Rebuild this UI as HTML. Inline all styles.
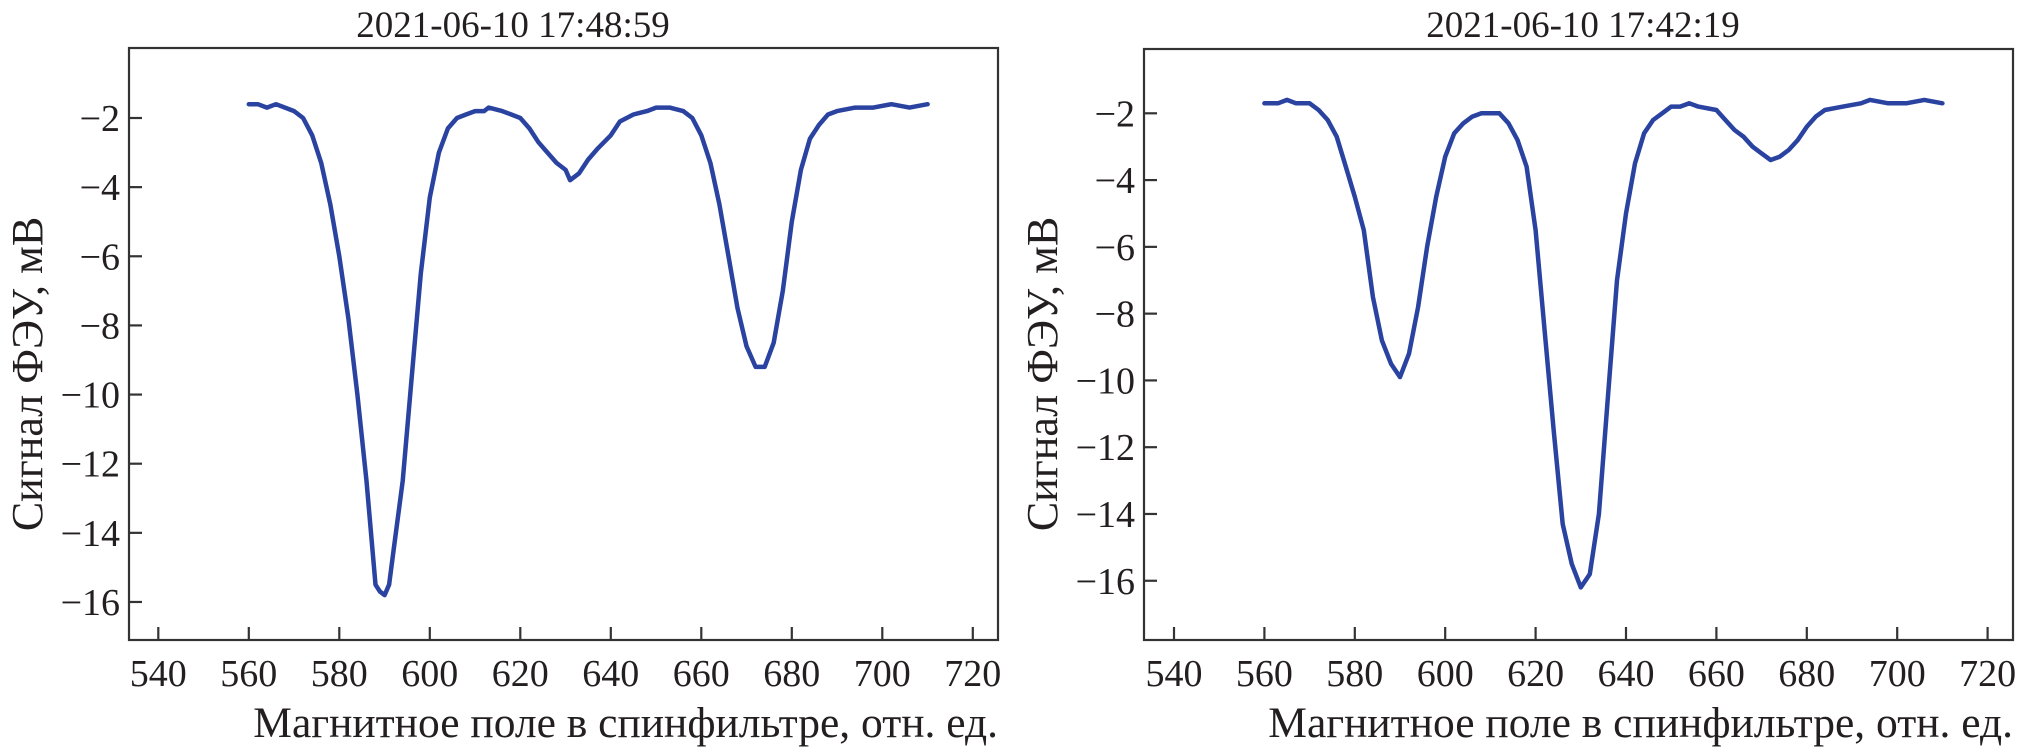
<!DOCTYPE html>
<html><head><meta charset="utf-8"><style>
html,body{margin:0;padding:0;background:#fff;width:2017px;height:750px;overflow:hidden}
svg text{font-family:"Liberation Serif",serif;fill:#231f20}
</style></head><body>
<svg id="svg" width="2017" height="750" xmlns="http://www.w3.org/2000/svg"></svg>
<script>
const xTicks=[540,560,580,600,620,640,660,680,700,720];
const yTicks=[-2,-4,-6,-8,-10,-12,-14,-16];
const leftX=[560,562,564,566,568,570,572,574,576,578,580,582,584,586,588,589,590,591,592,594,596,598,600,602,604,606,608,610,612,613,616,618,620,622,624,626,628,630,631,633,635,637,640,642,645,648,650,653,656,658,660,662,664,666,668,670,672,674,676,678,680,682,684,686,688,690,694,698,702,706,710];
const leftY=[-1.6,-1.6,-1.7,-1.6,-1.7,-1.8,-2.0,-2.5,-3.3,-4.5,-6.0,-7.8,-10,-12.5,-15.5,-15.7,-15.8,-15.5,-14.5,-12.5,-9.5,-6.5,-4.3,-3.0,-2.3,-2.0,-1.9,-1.8,-1.8,-1.7,-1.8,-1.9,-2.0,-2.3,-2.7,-3.0,-3.3,-3.5,-3.8,-3.6,-3.2,-2.9,-2.5,-2.1,-1.9,-1.8,-1.7,-1.7,-1.8,-2.0,-2.5,-3.3,-4.5,-6.0,-7.5,-8.6,-9.2,-9.2,-8.5,-7.0,-5.0,-3.5,-2.6,-2.2,-1.9,-1.8,-1.7,-1.7,-1.6,-1.7,-1.6];
const rightX=[560,563,565,567,570,572,574,576,578,580,582,584,586,588,590,592,594,596,598,600,602,604,606,608,610,612,614,616,618,620,622,624,626,628,630,632,634,636,638,640,642,644,646,648,650,652,654,656,660,662,664,666,668,670,672,674,676,678,680,682,684,688,692,694,698,702,706,710];
const rightY=[-1.7,-1.7,-1.6,-1.7,-1.7,-1.9,-2.2,-2.7,-3.6,-4.5,-5.5,-7.5,-8.8,-9.5,-9.9,-9.2,-7.8,-6.0,-4.5,-3.3,-2.6,-2.3,-2.1,-2.0,-2.0,-2.0,-2.3,-2.8,-3.6,-5.5,-8.5,-11.5,-14.3,-15.5,-16.2,-15.8,-14,-10.5,-7,-5.0,-3.5,-2.6,-2.2,-2.0,-1.8,-1.8,-1.7,-1.8,-1.9,-2.2,-2.5,-2.7,-3.0,-3.2,-3.4,-3.3,-3.1,-2.8,-2.4,-2.1,-1.9,-1.8,-1.7,-1.6,-1.7,-1.7,-1.6,-1.7];
const svg=document.getElementById('svg');
const NS='http://www.w3.org/2000/svg';
function mk(tag,attrs,parent){const e=document.createElementNS(NS,tag);for(const k in attrs)e.setAttribute(k,attrs[k]);(parent||svg).appendChild(e);return e;}
function panel(p,xs,ys){
  const sx=v=>p.x540+(v-540)*p.kx;
  const sy=v=>p.ym2+(-2-v)*p.ky;
  const g=mk('g',{});
  
  
  const fr=mk('rect',{x:p.l,y:p.t,width:p.r-p.l,height:p.b-p.t,fill:'none',stroke:'#333',"stroke-width":2.2},g);
  
  
  xTicks.forEach(v=>{
    const x=sx(v);
    const tl=mk('line',{x1:x,x2:x,y1:p.b,y2:p.b-13,stroke:'#333',"stroke-width":2.2},g);
    
    
    const t=mk('text',{x:x,y:686,"text-anchor":"middle","font-size":38},g);
    t.textContent=v;
    
    
  });
  yTicks.forEach(v=>{
    const y=sy(v);
    const tl=mk('line',{x1:p.l,x2:p.l+13,y1:y,y2:y,stroke:'#333',"stroke-width":2.2},g);
    
    
    const t=mk('text',{x:p.l-9,y:y+13,"text-anchor":"end","font-size":38},g);
    t.textContent='\u2212'+Math.abs(v);
    
    
  });
  const d=xs.map((v,i)=>(i?'L':'M')+sx(v).toFixed(1)+' '+sy(ys[i]).toFixed(1)).join(' ');
  const path=mk('path',{d:d,fill:'none',stroke:'#2a43a0',"stroke-width":4.5,"stroke-linejoin":"round","stroke-linecap":"round"},g);
  
  
  const tt=mk('text',{x:p.tx,y:37,"text-anchor":"middle","font-size":37},g);
  tt.textContent=p.title;
  
  
  const xt=mk('text',{x:p.r,y:737,"text-anchor":"end","font-size":43.5},g);
  xt.textContent='Магнитное поле в спинфильтре, отн. ед.';
  
  
  const yt=mk('text',{x:0,y:0,"text-anchor":"middle","font-size":44,transform:'translate('+p.yx+',374) rotate(-90)'},g);
  yt.textContent='Сигнал ФЭУ, мВ';
  
  
}
panel({name:'left-chart',l:129,r:998,t:48,b:640,x540:158.3,kx:4.525,ym2:118,ky:34.57,title:'2021-06-10 17:48:59',tx:513,yx:42},leftX,leftY);
panel({name:'right-chart',l:1144,r:2013,t:49,b:640,x540:1174,kx:4.52,ym2:113.3,ky:33.39,title:'2021-06-10 17:42:19',tx:1583,yx:1057},rightX,rightY);
</script>
</body></html>
